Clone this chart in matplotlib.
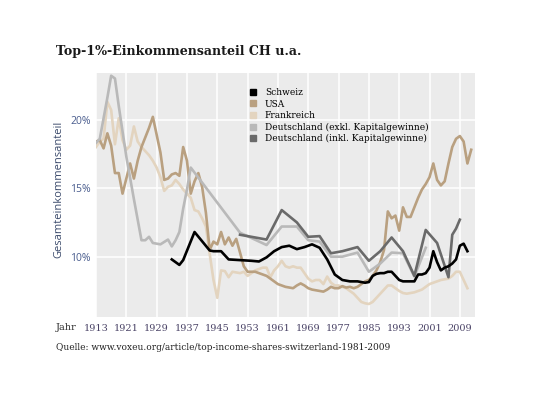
import matplotlib
matplotlib.use("Agg")
import matplotlib.pyplot as plt
from matplotlib.lines import Line2D

# Schweiz
ch_years = [1933, 1935, 1936, 1939, 1943, 1944, 1946, 1948, 1951, 1954, 1956, 1958, 1960,
            1962, 1964, 1966, 1968, 1970, 1972, 1974, 1976, 1978, 1980, 1982, 1984, 1985,
            1986, 1987, 1988, 1989, 1990, 1991, 1992, 1993, 1994, 1995, 1996, 1997, 1998,
            1999, 2000, 2001, 2002, 2003, 2004, 2005, 2006, 2007, 2008, 2009, 2010, 2011]
ch_vals = [9.8, 9.4, 9.75, 11.8, 10.45, 10.4, 10.4, 9.8, 9.75, 9.7, 9.65, 9.95, 10.4,
           10.7, 10.8, 10.55, 10.7, 10.9, 10.65, 9.8, 8.7, 8.3, 8.2, 8.2, 8.1, 8.15,
           8.6, 8.75, 8.8, 8.8, 8.9, 8.9, 8.6, 8.3, 8.2, 8.2, 8.2, 8.2, 8.7,
           8.7, 8.8, 9.2, 10.4, 9.6, 9.0, 9.2, 9.3, 9.5, 9.8, 10.8, 10.95, 10.4]

# USA
us_years = list(range(1913, 2013))
us_vals = [18.4, 18.5, 17.9, 19.0, 18.1, 16.1, 16.1, 14.6, 15.7, 16.8,
           15.7, 17.0, 18.0, 18.7, 19.4, 20.2, 18.9, 17.6, 15.6, 15.7,
           16.0, 16.1, 15.9, 18.0, 17.0, 14.6, 15.5, 16.1, 15.1, 13.2,
           10.5, 11.1, 10.9, 11.8, 10.9, 11.4, 10.8, 11.3, 10.3, 9.3,
           8.9, 8.9, 8.9, 8.8, 8.7, 8.6, 8.4, 8.2, 8.0, 7.9,
           7.8, 7.75, 7.7, 7.9, 8.05, 7.9, 7.7, 7.6, 7.55, 7.5,
           7.45, 7.6, 7.8, 7.7, 7.7, 7.85, 7.75, 7.8, 7.7, 7.8,
           8.0, 8.2, 8.3, 8.6, 9.0, 9.6, 10.5, 13.3, 12.8, 13.0,
           11.9, 13.6, 12.9, 12.9, 13.6, 14.3, 14.9, 15.3, 15.8, 16.8,
           15.6, 15.2, 15.5, 16.8, 18.0, 18.6, 18.8, 18.4, 16.8, 17.8]

# Frankreich
fr_years = list(range(1913, 2012))
fr_vals = [18.0, 18.4, 18.6, 21.3, 20.7, 18.2, 20.1, 18.5, 17.8, 18.1,
           19.5, 18.4, 18.0, 17.7, 17.4, 17.0, 16.5, 15.8, 14.8, 15.1,
           15.2, 15.6, 15.3, 14.9, 14.6, 14.3, 13.4, 13.3, 12.8, 12.2,
           10.2, 8.3, 7.0, 9.0, 8.95, 8.5, 8.9, 8.85, 8.8, 8.9,
           8.6, 8.8, 9.0, 9.1, 9.2, 9.2, 8.5, 9.0, 9.3, 9.7,
           9.3, 9.2, 9.3, 9.2, 9.2, 8.8, 8.4, 8.2, 8.3, 8.3,
           8.0, 8.55, 8.1, 7.9, 7.9, 7.8, 7.7, 7.5, 7.3, 7.0,
           6.7, 6.6, 6.55, 6.7, 7.0, 7.3, 7.6, 7.9, 7.9, 7.7,
           7.5, 7.35, 7.3, 7.35, 7.4, 7.5, 7.6, 7.8, 8.0, 8.1,
           8.2, 8.3, 8.35, 8.4, 8.6, 8.9, 8.9, 8.3, 7.7]

# Deutschland (exkl. Kapitalgewinne)
de_ex_years = [1913, 1914, 1916, 1917, 1918, 1919, 1921, 1923, 1925, 1926, 1927, 1928,
               1930, 1932, 1933, 1934, 1935, 1936, 1937, 1938, 1951, 1958, 1962, 1966,
               1969, 1972, 1975, 1978, 1982, 1985, 1988, 1991, 1994, 1997, 2000]
de_ex_vals = [18.3, 18.6, 21.6, 23.2, 23.0, 21.0, 17.3, 14.2, 11.2, 11.2, 11.45, 11.0,
              10.9, 11.25, 10.75, 11.2, 11.8, 13.5, 14.9, 16.5, 11.75, 10.85, 12.2, 12.2,
              11.2, 11.1, 10.0, 10.0, 10.3, 8.9, 9.5, 10.3, 10.25, 8.55, 10.65]

# Deutschland (inkl. Kapitalgewinne)
de_in_years = [1951, 1958, 1962, 1966, 1969, 1972, 1975, 1978, 1982, 1985, 1988, 1991,
               1994, 1997, 2000, 2003, 2006, 2007, 2008, 2009]
de_in_vals = [11.6, 11.25, 13.4, 12.5, 11.45, 11.5, 10.25, 10.4, 10.7, 9.7, 10.4, 11.4,
              10.4, 8.6, 11.95, 11.0, 8.5, 11.6, 12.05, 12.7]

x_ticks = list(range(1913, 2010, 8))
y_ticks = [10, 15, 20]

c_ch = "#000000"
c_us = "#b9a080"
c_fr = "#e3d4bf"
c_dex = "#b9b9b9"
c_din = "#6a6a6a"

serif = "DejaVu Serif"
sans = "Open Sans"

fig = plt.figure(figsize=(5.45, 4.05), dpi=100)
ax = fig.add_axes([96 / 545, 1 - 317 / 405, 379 / 545, 244 / 405])
ax.set_facecolor("#ebebeb")

lw = 1.9
ax.plot(fr_years, fr_vals, color=c_fr, lw=lw, zorder=3)
ax.plot(us_years, us_vals, color=c_us, lw=lw, zorder=4)
ax.plot(de_ex_years, de_ex_vals, color=c_dex, lw=lw, zorder=5)
ax.plot(de_in_years, de_in_vals, color=c_din, lw=lw, zorder=6)
ax.plot(ch_years, ch_vals, color=c_ch, lw=lw, zorder=7)

ax.set_xlim(1913, 2013)
ax.set_ylim(5.6, 23.4)
ax.set_xticks(x_ticks)
ax.set_yticks(y_ticks)
ax.set_yticklabels([f"{v}%" for v in y_ticks], fontfamily=sans, fontsize=7.5, color="#4a5d8e")
ax.set_xticklabels([str(v) for v in x_ticks], fontfamily=serif, fontsize=7, color="#4b4467")
ax.tick_params(axis="both", length=0)
ax.tick_params(axis="y", pad=4)
ax.tick_params(axis="x", pad=5)
ax.grid(True, color="white", lw=1.1)
ax.set_axisbelow(True)
for s in ax.spines.values():
    s.set_visible(False)

fig.text(56 / 545, 1 - 327 / 405, "Jahr", fontfamily=serif, fontsize=7, color="#333333", va="center")
fig.text(59 / 545, 1 - 189 / 405, "Gesamteinkommensanteil", rotation=90, fontfamily=sans,
         fontsize=8, color="#3b4a6b", va="center", ha="center")
fig.text(56 / 545, 1 - 51 / 405, "Top-1%-Einkommensanteil CH u.a.", fontfamily=serif,
         fontweight="bold", fontsize=9.1, color="#1a1a1a", va="center")
fig.text(56 / 545, 1 - 347 / 405,
         "Quelle: www.voxeu.org/article/top-income-shares-switzerland-1981-2009",
         fontfamily=serif, fontsize=6.5, color="#222222", va="center")

labels = ["Schweiz", "USA", "Frankreich", "Deutschland (exkl. Kapitalgewinne)",
          "Deutschland (inkl. Kapitalgewinne)"]
colors = [c_ch, c_us, c_fr, c_dex, c_din]
handles = [Line2D([], [], marker="s", linestyle="None", color=c, markersize=5) for c in colors]
ax.legend(handles, labels, loc="upper left", bbox_to_anchor=(0.405, 0.938), frameon=False,
          prop={"family": serif, "size": 6.5}, handlelength=0.7, handletextpad=1.0,
          labelspacing=0.28, borderpad=0, borderaxespad=0)

fig.savefig("out.png", dpi=100)
